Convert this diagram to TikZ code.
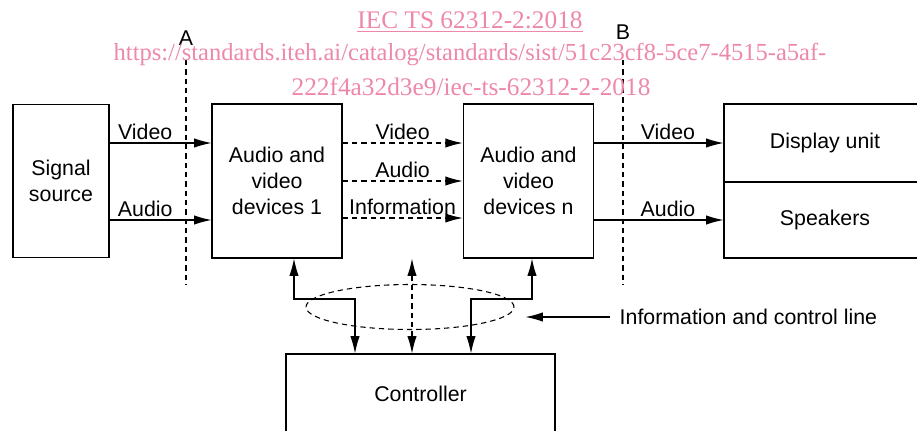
\documentclass[tikz,border=0pt]{standalone}
\usepackage{fontspec}
\setmainfont{Liberation Sans}
\newfontfamily\wmfont{Liberation Serif}
\usetikzlibrary{arrows.meta,shapes.geometric}
\definecolor{wmpink}{RGB}{238,136,170}
\tikzstyle{block}=[draw,
                   line width=0.8pt,
                   align=center,
                   inner sep=0pt]
\tikzstyle{sig}=[line width=0.8pt, -{Latex[length=13pt,width=7pt]}]
\tikzstyle{both}=[line width=0.8pt, {Latex[length=13pt,width=7pt]}-{Latex[length=13pt,width=7pt]}]
\tikzstyle{cut}=[line width=0.8pt, dash pattern=on 4pt off 3pt]
\tikzstyle{lbl}=[inner sep=2pt]

\begin{document}
\begin{tikzpicture}[x=0.75pt,y=-0.75pt,
    every node/.style={font=\fontsize{16pt}{19.5pt}\selectfont}]
    \useasboundingbox (0,0) rectangle (917,430);
    % signal chain
    \node[block, minimum width=72pt, minimum height=115pt] (source) at (61,181) {Signal\\source};
    \node[block, minimum width=97.5pt, minimum height=115.5pt] (av1) at (277,181) {Audio and\\video\\devices 1};
    \node[block, minimum width=98pt, minimum height=115.5pt] (avn) at (528.5,181) {Audio and\\video\\devices n};
    \node[block, minimum width=151.5pt, minimum height=58.5pt] (display) at (825,143) {Display unit};
    \node[block, minimum width=151.5pt, minimum height=57pt] (speakers) at (825,220) {Speakers};
    \node[block, minimum width=201.75pt, minimum height=60pt] (ctrl) at (420.5,394) {Controller};

    \path ([yshift=28.5pt]source.east) edge[sig] node[lbl,above,pos=0.35] {Video} ([yshift=28.5pt]av1.west)
          ([yshift=-29.25pt]source.east) edge[sig] node[lbl,above,pos=0.35] {Audio} ([yshift=-29.25pt]av1.west);
    \path ([yshift=28.5pt]av1.east) edge[sig,cut] node[lbl,above] {Video} ([yshift=28.5pt]avn.west)
          (av1.east) edge[sig,cut] node[lbl,above] {Audio} (avn.west)
          ([yshift=-27.75pt]av1.east) edge[sig,cut] node[lbl,above] {Information} ([yshift=-27.75pt]avn.west);
    \path ([yshift=28.5pt]avn.east) edge[sig] node[lbl,above,pos=0.57] {Video} ([yshift=28.5pt]avn.east -| display.west)
          ([yshift=-29.25pt]avn.east) edge[sig] node[lbl,above,pos=0.57] {Audio} ([yshift=-29.25pt]avn.east -| speakers.west);

    % reference points A and B
    \node (ptA) at (186,38) {A};
    \node (ptB) at (623,32) {B};
    \draw[cut] (186,60) -- (186,285);
    \draw[cut] (623,60) -- (623,285);

    % information and control line
    \node[ellipse, draw, line width=0.8pt, dash pattern=on 4pt off 3pt, inner sep=0pt,
          minimum width=156pt, minimum height=33.75pt] (bus) at (410,307) {};
    \coordinate (k1) at (294,299);
    \coordinate (k2) at (355,299);
    \coordinate (k3) at (412,299);
    \coordinate (k4) at (471,299);
    \coordinate (k5) at (532,299);
    \draw[both] (av1.south -| k1) -- (k1) -- (k2) -- (k2 |- ctrl.north);
    \draw[both,cut] (av1.south -| k3) -- (k3 |- ctrl.north);
    \draw[both] (avn.south -| k5) -- (k5) -- (k4) -- (k4 |- ctrl.north);
    \node[anchor=west] (buslbl) at (615,317) {Information and control line};
    \draw[sig, shorten <=4pt] (buslbl.west) -- ([xshift=8.25pt]bus.east |- buslbl.west);

    % watermark
    \node[text=wmpink, font=\wmfont\fontsize{19pt}{24pt}\selectfont] (wm1) at (470,22) {\underline{IEC TS 62312-2:2018}};
    \node[text=wmpink, font=\wmfont\fontsize{18.4pt}{24pt}\selectfont] (wm2) at (470,55) {https://standards.iteh.ai/catalog/standards/sist/51c23cf8-5ce7-4515-a5af-};
    \node[text=wmpink, font=\wmfont\fontsize{19pt}{24pt}\selectfont] (wm3) at (471,87) {222f4a32d3e9/iec-ts-62312-2-2018};
\end{tikzpicture}
\end{document}
